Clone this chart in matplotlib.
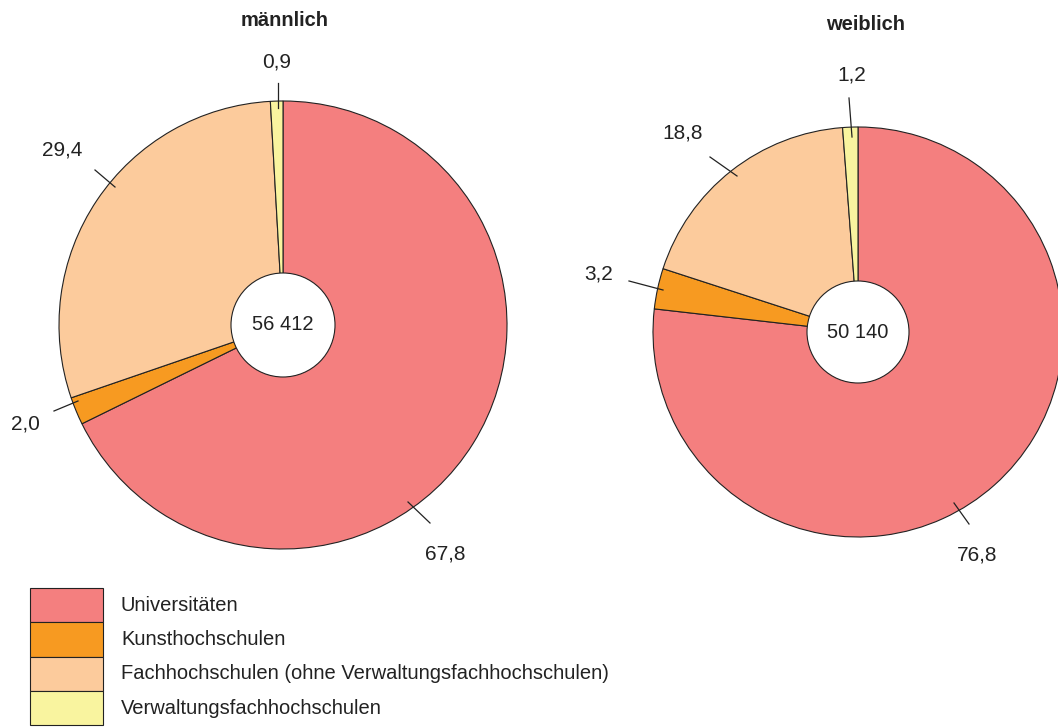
import matplotlib
matplotlib.use("Agg")
import matplotlib.pyplot as plt
from matplotlib.patches import Circle, Rectangle

plt.rcParams['font.family'] = ['Liberation Sans', 'DejaVu Sans']

categories = ["Universitäten", "Kunsthochschulen",
              "Fachhochschulen (ohne Verwaltungsfachhochschulen)",
              "Verwaltungsfachhochschulen"]
colors = ["#F47F7F", "#F79A21", "#FCCB9C", "#F9F49F"]
male = [67.8, 2.0, 29.4, 0.9]
female = [76.8, 3.2, 18.8, 1.2]
male_total = "56 412"
female_total = "50 140"
titles = ["männlich", "weiblich"]

W, H = 1058, 727
fig = plt.figure(figsize=(W / 100, H / 100), dpi=100)
ax = fig.add_axes([0, 0, 1, 1])

def Y(py):
    return H - py

TXT = '#222222'

# pie specs: center in pixels, radius, label text pos, leader line (start, end)
specs = [
    dict(vals=male, total=male_total, title=titles[0], c=(283, 325), r=224, hole=52,
         title_pos=(285, 20),
         labels=[((445, 554), (408, 502), (430, 523)),
                 ((25, 424), (78, 401), (54, 411)),
                 ((62, 150), (115, 187), (95, 170)),
                 ((277, 62), (278, 108), (278, 83))]),
    dict(vals=female, total=female_total, title=titles[1], c=(858, 332), r=205, hole=51,
         title_pos=(866, 25),
         labels=[((977, 555), (954, 503), (969, 524)),
                 ((599, 274), (663, 290), (629, 281)),
                 ((683, 133), (737, 176), (710, 157)),
                 ((852, 75), (852, 137), (849, 98))]),
]

for s in specs:
    cx, cy = s['c']
    ax.pie(s['vals'], colors=colors, startangle=90, counterclock=False,
           center=(cx, Y(cy)), radius=s['r'], frame=True,
           wedgeprops=dict(edgecolor='#222222', linewidth=0.8))
    ax.add_patch(Circle((cx, Y(cy)), s['hole'], facecolor='white',
                        edgecolor='#222222', linewidth=0.8, zorder=5))
    ax.text(cx, Y(cy), s['total'], ha='center', va='center', fontsize=14.5,
            color=TXT, zorder=6)
    ax.text(s['title_pos'][0], Y(s['title_pos'][1]), s['title'], ha='center',
            va='center', fontsize=14.5, fontweight='bold', color=TXT)
    for v, (tp, p1, p2) in zip(s['vals'], s['labels']):
        ax.plot([p1[0], p2[0]], [Y(p1[1]), Y(p2[1])], color='#222222', lw=0.9,
                zorder=7)
        ax.text(tp[0], Y(tp[1]), f"{v:.1f}".replace('.', ','), ha='center',
                va='center', fontsize=15, color=TXT)

ax.set_xlim(0, W)
ax.set_ylim(0, H)
ax.set_aspect('equal')
ax.axis('off')

# legend
top = 588
h = 34.3
for i, (lab, col) in enumerate(zip(categories, colors)):
    y0 = top + i * h
    ax.add_patch(Rectangle((30, Y(y0 + h)), 73, h, facecolor=col,
                           edgecolor='#222222', linewidth=0.8))
    ax.text(121, Y(y0 + h / 2), lab, ha='left', va='center', fontsize=14.5,
            color=TXT)

fig.savefig("out.png", dpi=100)
